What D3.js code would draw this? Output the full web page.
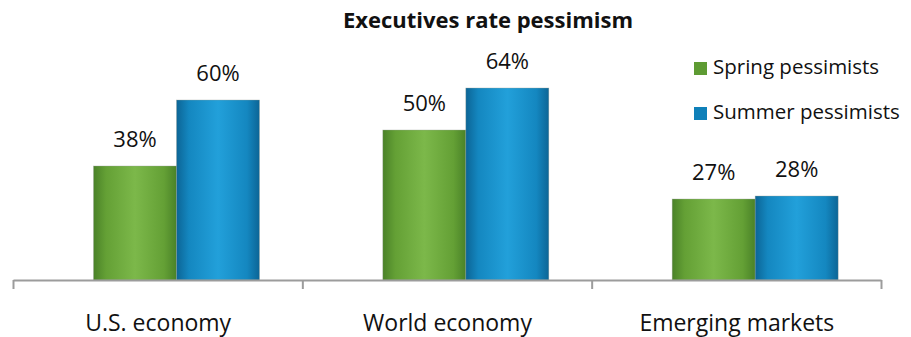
<!DOCTYPE html>
<html><head><meta charset="utf-8">
<script src="https://cdn.jsdelivr.net/npm/d3@7/dist/d3.min.js"></script>
<style>body{margin:0;background:#fff}svg{display:block}text{font-family:"Open Sans","Noto Sans",sans-serif;fill:#111}</style>
</head><body><svg id="c" width="911" height="337"></svg>
<script>
const categories = ["U.S. economy", "World economy", "Emerging markets"];
const seriesNames = ["Spring pessimists", "Summer pessimists"];
const spring = [38, 50, 27];
const summer = [60, 64, 28];
const title = "Executives rate pessimism";

const svg = d3.select("#c");
const defs = svg.append("defs");
function grad(id, edge, mid, center){
  const g = defs.append("linearGradient").attr("id", id).attr("x1","0").attr("x2","1").attr("y1","0").attr("y2","0");
  [[0,edge],[0.15,mid],[0.5,center],[0.85,mid],[1,edge]].forEach(([o,c])=>g.append("stop").attr("offset",o).attr("stop-color",c));
}
grad("gGreen", "#4a8228", "#64a035", "#7cb84a");
grad("gBlue", "#0c6596", "#1487c0", "#22a0da");
const fills = ["url(#gGreen)", "url(#gBlue)"];
const legendColors = ["#5e9b33", "#0f80b9"];

const x = d3.scaleBand().domain(categories).range([13.5, 881.5]).padding(0);
const xi = d3.scaleBand().domain(seriesNames).range([80, 246]).padding(0);
const y = d3.scaleLinear().domain([0, 70]).range([280, 70]);

const data = categories.map((c,i)=>({c, vals:[spring[i], summer[i]]}));

const g = svg.append("g");
data.forEach(d=>{
  d.vals.forEach((v,j)=>{
    const bx = x(d.c) + xi(seriesNames[j]);
    g.append("rect").attr("x", bx).attr("y", y(v)).attr("width", xi.bandwidth()).attr("height", y(0)-y(v))
      .attr("fill", fills[j]).attr("stroke","#9aa39a").attr("stroke-width",0.6).attr("stroke-opacity",0.6);
    g.append("text").attr("x", bx + xi.bandwidth()/2).attr("y", y(v) - 19).attr("text-anchor","middle")
      .attr("font-size", 22).text(v + "%");
  });
});

// axis
const ax = svg.append("g").attr("stroke", "#9c9c9c").attr("stroke-width", 2);
ax.append("line").attr("x1", x.range()[0]).attr("x2", x.range()[1]).attr("y1", y(0)+0.5).attr("y2", y(0)+0.5);
const tickXs = categories.map(c=>x(c)).concat([x.range()[1]]);
tickXs.forEach(t=>ax.append("line").attr("x1", t).attr("x2", t).attr("y1", y(0)).attr("y2", y(0)+9));
categories.forEach(c=>{
  svg.append("text").attr("x", x(c)+x.bandwidth()/2).attr("y", 331).attr("text-anchor","middle")
    .attr("font-size", 23).text(c);
});

// title
svg.append("text").attr("x", 488).attr("y", 28).attr("text-anchor","middle").attr("font-size", 22)
  .attr("font-weight","bold").text(title);

// legend
const lg = svg.append("g");
seriesNames.forEach((s,i)=>{
  const ly = 62 + i*45;
  lg.append("rect").attr("x", 694).attr("y", ly).attr("width", 13).attr("height", 13).attr("fill", legendColors[i]);
  lg.append("text").attr("x", 713).attr("y", ly + 12).attr("font-size", 20.5).text(s);
});
</script></body></html>
